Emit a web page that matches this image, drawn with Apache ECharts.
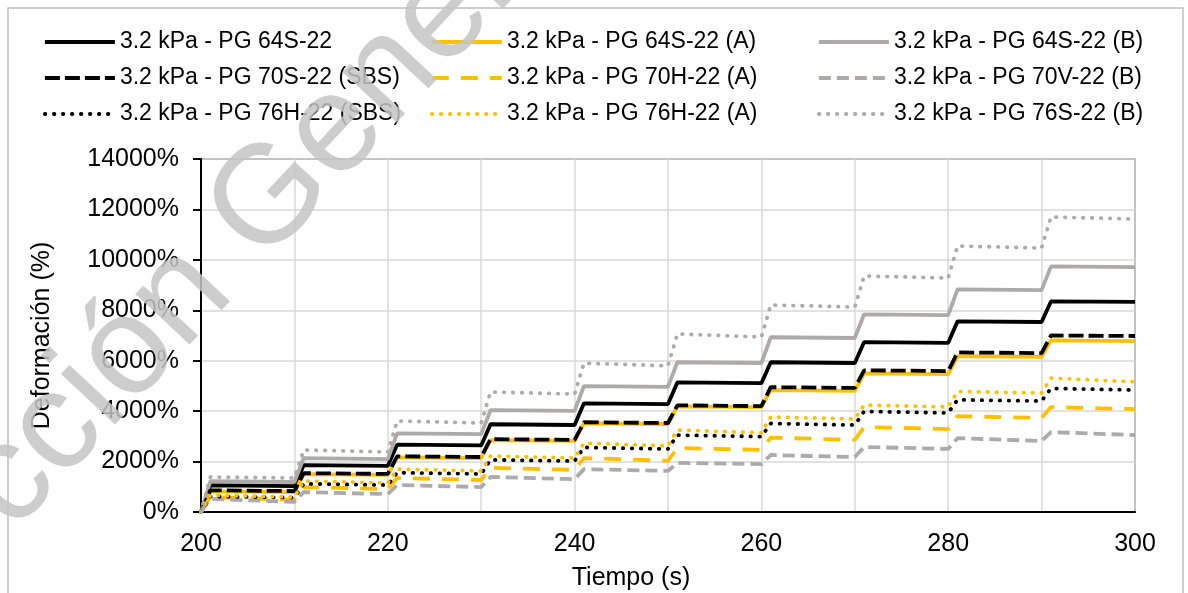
<!DOCTYPE html>
<html>
<head>
<meta charset="utf-8">
<script src="https://cdn.jsdelivr.net/npm/echarts@6/dist/echarts.min.js"></script>
<style>
	html, body { margin: 0; padding: 0; background: #fff; }
	#main { width: 1188px; height: 593px; }
</style>
</head>
<body>
<div id="main"></div>
<script>
// tiempo: inicio, luego (pico a +1 s, final del ciclo a +10 s) por cada ciclo
var tiempo = [200, 201, 210, 211, 220, 221, 230, 231, 240, 241, 250, 251, 260, 261, 270, 271, 280, 281, 290, 291, 300];

var pg64S = [0, 1060, 1030, 1860, 1830, 2670, 2640, 3480, 3450, 4310, 4280, 5140, 5110, 5940, 5910, 6740, 6710, 7560, 7535, 8350, 8330];
var pg64SA = [0, 820, 790, 1500, 1470, 2170, 2140, 2850, 2820, 3520, 3490, 4190, 4160, 4830, 4800, 5500, 5470, 6180, 6150, 6810, 6780];
var pg64SB = [0, 1220, 1190, 2140, 2100, 3120, 3090, 4040, 4010, 4990, 4960, 5940, 5910, 6930, 6900, 7840, 7810, 8830, 8800, 9740, 9710];
var pg70S = [0, 860, 830, 1540, 1510, 2210, 2180, 2890, 2860, 3560, 3530, 4230, 4200, 4950, 4920, 5620, 5590, 6330, 6300, 7000, 6980];
var pg70HA = [0, 590, 480, 990, 910, 1350, 1270, 1750, 1670, 2140, 2030, 2540, 2460, 2950, 2860, 3370, 3290, 3800, 3730, 4160, 4080];
var pg70VB = [0, 520, 400, 790, 710, 1070, 990, 1390, 1300, 1700, 1630, 1950, 1900, 2260, 2180, 2580, 2500, 2930, 2815, 3170, 3050];
var pg76H = [0, 620, 570, 1120, 1070, 1560, 1510, 2070, 2020, 2560, 2500, 3050, 2990, 3510, 3450, 3990, 3930, 4450, 4400, 4900, 4840];
var pg76HA = [0, 670, 590, 1230, 1150, 1700, 1630, 2220, 2140, 2730, 2620, 3250, 3140, 3770, 3690, 4240, 4170, 4780, 4720, 5310, 5160];
var pg76SB = [0, 1390, 1350, 2460, 2380, 3610, 3530, 4760, 4680, 5900, 5800, 7060, 6940, 8210, 8130, 9360, 9280, 10550, 10470, 11700, 11620];

var nombres = [
	'3.2 kPa - PG 64S-22', '3.2 kPa - PG 64S-22 (A)', '3.2 kPa - PG 64S-22 (B)',
	'3.2 kPa - PG 70S-22 (SBS)', '3.2 kPa - PG 70H-22 (A)', '3.2 kPa - PG 70V-22 (B)',
	'3.2 kPa - PG 76H-22 (SBS)', '3.2 kPa - PG 76H-22 (A)', '3.2 kPa - PG 76S-22 (B)'
];

var negro = '#000000';
var amarillo = '#FFC000';
var gris = '#AEAAAA';
var fuente = 'Liberation Sans, Arial, sans-serif';

function pares(valores) {
	var out = [];
	for (var i = 0; i < tiempo.length; i++) {
		out.push([tiempo[i], valores[i]]);
	}
	return out;
}

function serie(nombre, valores, color, tipo) {
	return {
		name: nombre,
		type: 'line',
		symbol: 'none',
		showSymbol: false,
		data: pares(valores),
		lineStyle: {
			color: color,
			width: 3.8,
			type: tipo,
			cap: (tipo instanceof Array && tipo[0] < 1) ? 'round' : 'butt'
		},
		itemStyle: { color: color }
	};
}

var punteado = [0.5, 8.5];

function leyenda(left, datos) {
	return {
		left: left,
		top: 25,
		orient: 'vertical',
		itemWidth: 70,
		itemHeight: 14,
		itemGap: 12,
		selectedMode: false,
		data: datos,
		itemStyle: { opacity: 0 },
		lineStyle: { width: 3.8 },
		textStyle: { fontSize: 23, lineHeight: 24, color: '#000', fontFamily: fuente }
	};
}

var myChart = echarts.init(document.getElementById('main'));
var option = {
	backgroundColor: '#fff',
	animation: false,
	textStyle: { fontFamily: fuente },
	legend: [
		leyenda(38, [nombres[0], nombres[3], nombres[6]]),
		leyenda(425, [nombres[1], nombres[4], nombres[7]]),
		leyenda(812, [nombres[2], nombres[5], nombres[8]])
	],
	grid: {
		left: 201, right: 53, top: 159, bottom: 81,
		outerBoundsMode: 'none',
		show: true,
		borderColor: '#595959',
		borderWidth: 1.5
	},
	xAxis: {
		type: 'value',
		min: 200,
		max: 300,
		interval: 10,
		name: 'Tiempo (s)',
		nameLocation: 'middle',
		nameGap: 54,
		nameTextStyle: { fontSize: 25, color: '#000', padding: [0, 74, 0, 0] },
		axisLine: { lineStyle: { color: '#000', width: 2 } },
		axisTick: { show: false },
		axisLabel: {
			fontSize: 25, color: '#000', margin: 20,
			formatter: function (v) { return v % 20 === 0 ? v : ''; }
		},
		splitLine: { show: true, lineStyle: { color: '#D9D9D9', width: 1.5 } }
	},
	yAxis: {
		type: 'value',
		min: 0,
		max: 14000,
		interval: 2000,
		name: 'Deformación (%)',
		nameLocation: 'middle',
		nameGap: 146,
		nameTextStyle: { fontSize: 25, color: '#000' },
		axisLine: { show: true, lineStyle: { color: '#000', width: 2 } },
		axisTick: { show: true, length: 8, lineStyle: { color: '#000', width: 2 } },
		axisLabel: {
			fontSize: 25, color: '#000', margin: 22,
			formatter: function (v) { return v + '%'; }
		},
		splitLine: { show: true, lineStyle: { color: '#D9D9D9', width: 1.5 } }
	},
	series: [
		serie(nombres[0], pg64S, negro, 'solid'),
		serie(nombres[1], pg64SA, amarillo, 'solid'),
		serie(nombres[2], pg64SB, gris, 'solid'),
		serie(nombres[3], pg70S, negro, [15, 5]),
		serie(nombres[4], pg70HA, amarillo, [17, 12]),
		serie(nombres[5], pg70VB, gris, [12, 6]),
		serie(nombres[6], pg76H, negro, punteado),
		serie(nombres[7], pg76HA, amarillo, punteado),
		serie(nombres[8], pg76SB, gris, punteado)
	],
	graphic: [
		{
			type: 'rect',
			silent: true,
			shape: { x: 8, y: 8, width: 1175, height: 620 },
			style: { fill: 'none', stroke: '#BFBFBF', lineWidth: 1.5 },
			z: 0
		},
		{
			// marca de agua
			type: 'text',
			silent: true,
			x: -190,
			y: 695,
			rotation: 47 * Math.PI / 180,
			z: 100,
			style: {
				text: 'Dirección General de Bibliotecas',
				fontSize: 140,
				fontFamily: fuente,
				fill: '#C4C4C4',
				opacity: 0.85,
				textVerticalAlign: 'middle'
			}
		}
	]
};
myChart.setOption(option);
window.addEventListener('resize', function () { myChart.resize(); });
</script>
</body>
</html>
